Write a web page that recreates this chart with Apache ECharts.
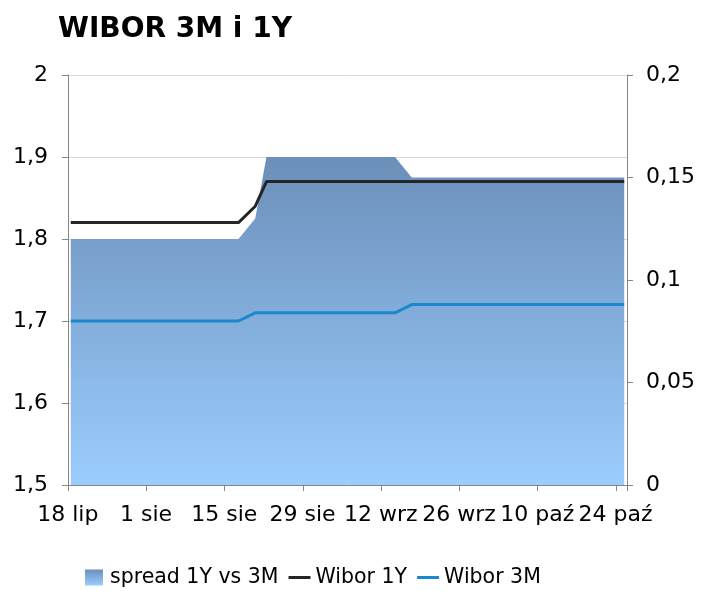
<!DOCTYPE html>
<html>
<head>
<meta charset="utf-8">
<script src="https://cdn.jsdelivr.net/npm/echarts@6/dist/echarts.min.js"></script>
<style>
html,body{margin:0;padding:0;background:#fff;}
#chart{width:702px;height:591px;}
</style>
</head>
<body>
<div id="chart"></div>
<script>
const N = null;
// one category per calendar day, 18 Jul .. 25 Oct
const startDate = [2018, 6, 18];
const dayCount = 100;
const monthNames = ['sty','lut','mar','kwi','maj','cze','lip','sie','wrz','paź','lis','gru'];
const categories = [];
for (let i = 0; i < dayCount; i++) {
  const d = new Date(startDate[0], startDate[1], startDate[2] + i);
  categories.push(d.getDate() + ' ' + monthNames[d.getMonth()]);
}

// weekly rows (Mon..Sun); nulls = no fixing (weekend / holiday / missing)
const wibor1Y = [
                   1.82, 1.82, 1.82, N, N,
  1.82, 1.82, 1.82, 1.82, 1.82, N, N,
  1.82, 1.82, 1.82, 1.82, 1.82, N, N,
  1.82, 1.82, 1.82, 1.82, 1.82, N, N,
  1.82, 1.82, N,    1.82, 1.82, N, N,
  1.84, N,    1.87, 1.87, 1.87, N, N,
  1.87, 1.87, 1.87, 1.87, 1.87, N, N,
  1.87, 1.87, 1.87, 1.87, 1.87, N, N,
  1.87, 1.87, 1.87, 1.87, 1.87, N, N,
  1.87, 1.87, 1.87, 1.87, 1.87, N, N,
  1.87, 1.87, 1.87, 1.87, 1.87, N, N,
  1.87, 1.87, 1.87, 1.87, 1.87, N, N,
  1.87, 1.87, 1.87, 1.87, 1.87, N, N,
  1.87, 1.87, 1.87, 1.87, 1.87, N, N,
  1.87, 1.87, 1.87, 1.87
];
const wibor3M = [
                   1.70, 1.70, 1.70, N, N,
  1.70, 1.70, 1.70, 1.70, 1.70, N, N,
  1.70, 1.70, 1.70, 1.70, 1.70, N, N,
  1.70, 1.70, 1.70, 1.70, 1.70, N, N,
  1.70, 1.70, N,    1.70, 1.70, N, N,
  1.71, N,    1.71, 1.71, 1.71, N, N,
  1.71, 1.71, 1.71, 1.71, 1.71, N, N,
  1.71, 1.71, 1.71, 1.71, 1.71, N, N,
  1.71, 1.71, 1.71, 1.71, 1.71, N, N,
  1.72, 1.72, 1.72, 1.72, 1.72, N, N,
  1.72, 1.72, 1.72, 1.72, 1.72, N, N,
  1.72, 1.72, 1.72, 1.72, 1.72, N, N,
  1.72, 1.72, 1.72, 1.72, 1.72, N, N,
  1.72, 1.72, 1.72, 1.72, 1.72, N, N,
  1.72, 1.72, 1.72, 1.72
];
const spread = [
                   0.12, 0.12, 0.12, N, N,
  0.12, 0.12, 0.12, 0.12, 0.12, N, N,
  0.12, 0.12, 0.12, 0.12, 0.12, N, N,
  0.12, 0.12, 0.12, 0.12, 0.12, N, N,
  0.12, 0.12, N,    0.12, 0.12, N, N,
  0.13, N,    0.16, 0.16, 0.16, N, N,
  0.16, 0.16, 0.16, 0.16, 0.16, N, N,
  0.16, 0.16, 0.16, 0.16, 0.16, N, N,
  0.16, 0.16, 0.16, 0.16, 0.16, N, N,
  0.15, 0.15, 0.15, 0.15, 0.15, N, N,
  0.15, 0.15, 0.15, 0.15, 0.15, N, N,
  0.15, 0.15, 0.15, 0.15, 0.15, N, N,
  0.15, 0.15, 0.15, 0.15, 0.15, N, N,
  0.15, 0.15, 0.15, 0.15, 0.15, N, N,
  0.15, 0.15, 0.15, 0.15
];
const labelStep = 14;

const FONT = 'DejaVu Sans';
const fmt = v => String(+v.toFixed(2)).replace('.', ',');
const areaGrad = new echarts.graphic.LinearGradient(0, 0, 0, 1, [
  {offset: 0, color: '#6b8fb9'},
  {offset: 1, color: '#9bcdfe'}
]);
const axisGray = '#868686';

const chart = echarts.init(document.getElementById('chart'), null, {renderer: 'canvas'});
chart.setOption({
  animation: false,
  backgroundColor: '#fff',
  title: {
    text: 'WIBOR 3M i 1Y',
    left: 53, top: 11,
    textStyle: {fontFamily: FONT, fontWeight: 'bold', fontSize: 28, color: '#000'}
  },
  legend: {
    left: 80, top: 562,
    itemGap: 10, itemWidth: 22, itemHeight: 16,
    symbolKeepAspect: true,
    textStyle: {fontFamily: FONT, fontSize: 20.5, color: '#000'},
    data: [
      {name: 'spread 1Y vs 3M', icon: 'path://M0,0h18v16h-18z'},
      {name: 'Wibor 1Y', icon: 'path://M0,0h22v3h-22z', itemStyle: {color: '#262626'}},
      {name: 'Wibor 3M', icon: 'path://M0,0h22v3h-22z', itemStyle: {color: '#1c88cc'}}
    ]
  },
  grid: {left: 68, right: 75, top: 75, bottom: 106},
  xAxis: {
    type: 'category',
    data: categories,
    boundaryGap: true,
    axisLine: {lineStyle: {color: axisGray, width: 1}},
    axisTick: {
      show: true, length: 6, lineStyle: {color: axisGray},
      interval: (i) => i % labelStep === 0
    },
    axisLabel: {
      interval: (i) => i % labelStep === 0,
      fontFamily: FONT, fontSize: 22, color: '#000',
      margin: 19,
      padding: [0, 6, 0, 0]
    },
    splitLine: {show: false}
  },
  yAxis: [
    {
      type: 'value', min: 1.5, max: 2, interval: 0.1, position: 'left',
      axisLine: {show: true, lineStyle: {color: axisGray}},
      axisTick: {show: true, length: 6, lineStyle: {color: axisGray}},
      axisLabel: {fontFamily: FONT, fontSize: 22, color: '#000', margin: 20, formatter: fmt},
      splitLine: {show: true, lineStyle: {color: '#d9d9d9', width: 1}}
    },
    {
      type: 'value', min: 0, max: 0.2, interval: 0.05, position: 'right',
      axisLine: {show: true, lineStyle: {color: axisGray}},
      axisTick: {show: true, length: 6, lineStyle: {color: axisGray}},
      axisLabel: {fontFamily: FONT, fontSize: 22, color: '#000', margin: 19, formatter: fmt},
      splitLine: {show: false}
    }
  ],
  series: [
    {
      name: 'spread 1Y vs 3M', type: 'line', yAxisIndex: 1,
      data: spread, connectNulls: true, symbol: 'none',
      itemStyle: {color: areaGrad},
      lineStyle: {width: 0, color: '#7aa0c8'},
      areaStyle: {color: areaGrad, opacity: 1},
      z: 1
    },
    {
      name: 'Wibor 1Y', type: 'line', yAxisIndex: 0,
      data: wibor1Y, connectNulls: true, symbol: 'none', showSymbol: false,
      itemStyle: {color: '#262626'},
      lineStyle: {width: 3, color: '#262626'},
      z: 3
    },
    {
      name: 'Wibor 3M', type: 'line', yAxisIndex: 0,
      data: wibor3M, connectNulls: true, symbol: 'none', showSymbol: false,
      itemStyle: {color: '#1c88cc'},
      lineStyle: {width: 3, color: '#1c88cc'},
      z: 3
    }
  ]
});
</script>
</body>
</html>
